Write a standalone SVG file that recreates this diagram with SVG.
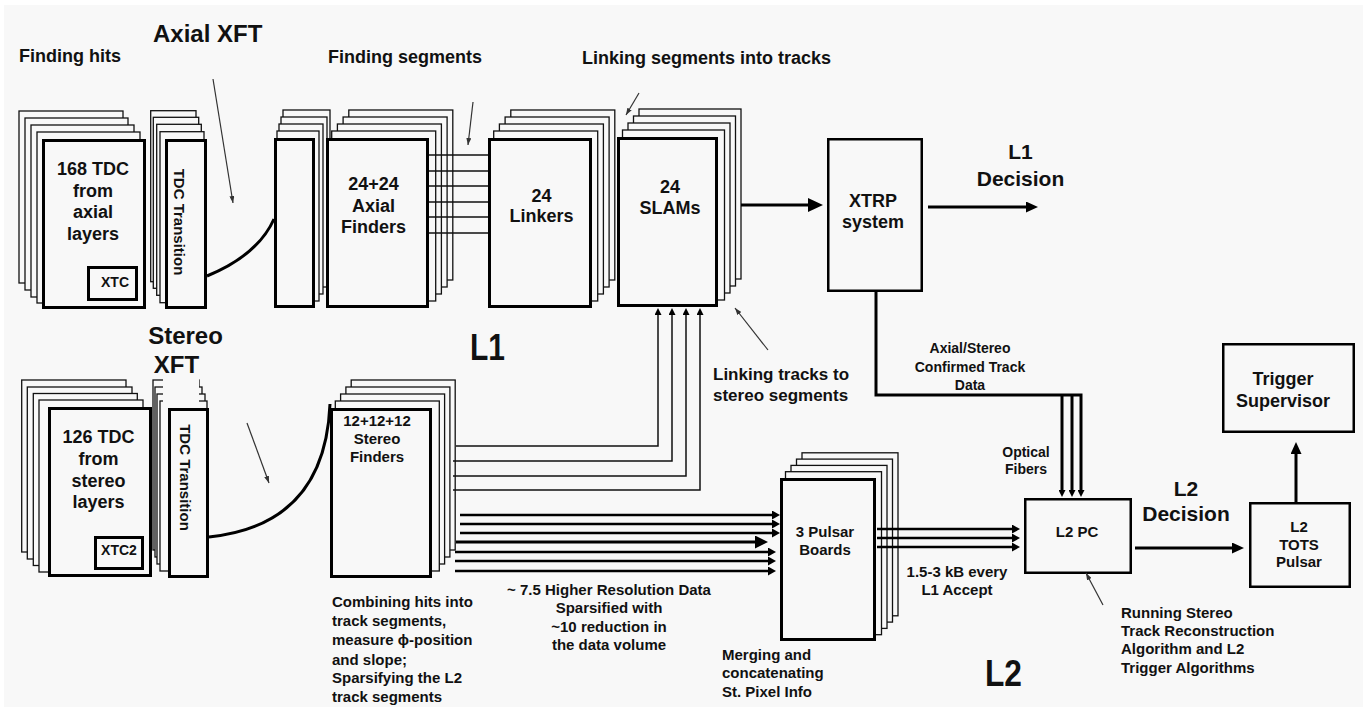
<svg xmlns="http://www.w3.org/2000/svg" width="1369" height="711" viewBox="0 0 1369 711">
  <style>
    text { font-family: "Liberation Sans", Arial, Helvetica, sans-serif; font-weight: bold; fill: #111; }
    .t14 { font-size: 14px; }
    .t15 { font-size: 15px; }
    .t17 { font-size: 17px; }
    .t18 { font-size: 18px; }
    .t21 { font-size: 21px; }
    .t24 { font-size: 24px; }
    .big { font-size: 37px; }
    .mid { text-anchor: middle; }
    .back { fill: #f8f8f8; stroke: #111; stroke-width: 1.3; }
    .front { fill: #f8f8f8; stroke: #000; stroke-width: 3; }
    .box { fill: #f8f8f8; stroke: #000; stroke-width: 2.5; }
    .wire { fill: none; stroke: #111; stroke-width: 1.3; }
    .wire2 { fill: none; stroke: #111; stroke-width: 1.5; }
    .bus { fill: none; stroke: #000; stroke-width: 2.5; }
    .fat { fill: none; stroke: #000; stroke-width: 3; }
    .cable { fill: none; stroke: #000; stroke-width: 3; }
    .pointer { fill: none; stroke: #333; stroke-width: 1.2; }
  </style>
  <defs>
    <marker id="tip-pointer" markerUnits="userSpaceOnUse" markerWidth="7" markerHeight="5" refX="7" refY="2.5" orient="auto">
      <path d="M0,0 L7,2.5 L0,5 z" fill="#333"/>
    </marker>
    <marker id="head-s" markerUnits="userSpaceOnUse" markerWidth="7" markerHeight="7" refX="0" refY="3.5" orient="auto">
      <path d="M0,0 L7,3.5 L0,7 z" fill="#000"/>
    </marker>
    <marker id="head-m" markerUnits="userSpaceOnUse" markerWidth="8" markerHeight="9" refX="0" refY="4.5" orient="auto">
      <path d="M0,0 L8,4.5 L0,9 z" fill="#000"/>
    </marker>
    <marker id="head-l" markerUnits="userSpaceOnUse" markerWidth="12" markerHeight="11" refX="0" refY="5.5" orient="auto">
      <path d="M0,0 L12,5.5 L0,11 z" fill="#000"/>
    </marker>
    <marker id="head-w" markerUnits="userSpaceOnUse" markerWidth="13" markerHeight="13" refX="0" refY="6.5" orient="auto">
      <path d="M0,0 L13,6.5 L0,13 z" fill="#000"/>
    </marker>
    <marker id="head-xl" markerUnits="userSpaceOnUse" markerWidth="15" markerHeight="14" refX="0" refY="7" orient="auto">
      <path d="M0,0 L15,7 L0,14 z" fill="#000"/>
    </marker>
  </defs>

  <!-- page -->
  <rect x="0" y="0" width="1369" height="711" fill="#ffffff"/>
  <rect x="4" y="5" width="1359" height="702" fill="#f8f8f8"/>

  <!-- ===== Axial XFT ===== -->
  <g id="axial-tdc">
    <rect class="back" x="19" y="111" width="104" height="172"/>
    <rect class="back" x="25" y="118" width="103" height="172"/>
    <rect class="back" x="31" y="125" width="103" height="172"/>
    <rect class="back" x="37" y="132" width="103" height="171"/>
    <rect class="front" x="43.5" y="140.5" width="101" height="167"/>
    <text class="t18 mid" x="93"><tspan x="93" y="175">168 TDC</tspan><tspan x="93" y="197">from</tspan><tspan x="93" y="218">axial</tspan><tspan x="93" y="240">layers</tspan></text>
    <rect class="front" x="88.5" y="267.5" width="48" height="32"/>
    <text class="t14 mid" x="115" y="287">XTC</text>
  </g>

  <g id="axial-transition">
    <rect class="back" x="150.7" y="110.7" width="45.3" height="171"/>
    <rect class="back" x="153.3" y="117.3" width="45.4" height="171"/>
    <rect class="back" x="156.7" y="124.3" width="44.6" height="171"/>
    <rect class="back" x="160" y="131.7" width="44" height="171"/>
    <rect class="front" x="166.5" y="140.5" width="39" height="167"/>
    <text class="t15 mid" x="173.5" y="222" transform="rotate(90 173.5 222)">TDC Transition</text>
  </g>

  <g id="axial-input-board">
    <rect class="back" x="283" y="110" width="47" height="170"/>
    <rect class="back" x="281" y="117" width="46" height="170"/>
    <rect class="back" x="279" y="124" width="44" height="170"/>
    <rect class="back" x="277" y="131" width="42" height="170"/>
    <rect class="front" x="275.5" y="139.5" width="38" height="167"/>
  </g>

  <g id="axial-finders">
    <rect class="back" x="348.8" y="110" width="104" height="170"/>
    <rect class="back" x="343.1" y="117" width="104" height="170"/>
    <rect class="back" x="337.4" y="124" width="104" height="170"/>
    <rect class="back" x="331.7" y="131" width="104" height="170"/>
    <rect class="front" x="327.5" y="139.5" width="100" height="167"/>
    <text class="t18 mid" x="373.5"><tspan x="373.5" y="190">24+24</tspan><tspan x="373.5" y="212">Axial</tspan><tspan x="373.5" y="233">Finders</tspan></text>
  </g>

  <g id="linkers">
    <rect class="back" x="510.8" y="110" width="104" height="170"/>
    <rect class="back" x="505.1" y="117" width="104" height="170"/>
    <rect class="back" x="499.4" y="124" width="104" height="170"/>
    <rect class="back" x="493.7" y="131" width="104" height="170"/>
    <rect class="front" x="489.5" y="139.5" width="101" height="167"/>
    <text class="t18 mid" x="541.5"><tspan x="541.5" y="202">24</tspan><tspan x="541.5" y="222">Linkers</tspan></text>
  </g>

  <g id="slams">
    <rect class="back" x="639" y="109" width="102" height="170"/>
    <rect class="back" x="633.5" y="116" width="102" height="170"/>
    <rect class="back" x="628" y="123" width="102" height="170"/>
    <rect class="back" x="622.5" y="130" width="102" height="170"/>
    <rect class="front" x="618.5" y="138.5" width="98" height="167"/>
    <text class="t18 mid" x="670"><tspan x="670" y="193">24</tspan><tspan x="670" y="214">SLAMs</tspan></text>
  </g>

  <g id="xtrp">
    <rect class="box" x="828.25" y="139.25" width="93.5" height="151.5"/>
    <text class="t18 mid" x="873"><tspan x="873" y="207">XTRP</tspan><tspan x="873" y="228">system</tspan></text>
  </g>

  <!-- ===== Stereo XFT ===== -->
  <g id="stereo-tdc">
    <rect class="back" x="21.7" y="380" width="104.3" height="172"/>
    <rect class="back" x="27.3" y="387" width="104.7" height="172"/>
    <rect class="back" x="33.3" y="393.5" width="104" height="172"/>
    <rect class="back" x="39" y="400" width="104" height="172"/>
    <rect class="front" x="49.5" y="408.5" width="101" height="167"/>
    <text class="t18 mid" x="98.5"><tspan x="98.5" y="443">126 TDC</tspan><tspan x="98.5" y="465">from</tspan><tspan x="98.5" y="487">stereo</tspan><tspan x="98.5" y="508">layers</tspan></text>
    <rect class="front" x="95.5" y="537.5" width="47" height="31"/>
    <text class="t14 mid" x="119" y="555">XTC2</text>
  </g>

  <g id="stereo-transition">
    <rect class="back" x="153" y="380" width="46" height="170"/>
    <rect class="back" x="155" y="387" width="47" height="170"/>
    <rect class="back" x="157" y="394" width="48" height="170"/>
    <rect class="back" x="160" y="401" width="47" height="170"/>
    <rect class="front" x="169.5" y="409.5" width="38" height="167"/>
    <text class="t15 mid" x="180" y="477.5" transform="rotate(90 180 477.5)">TDC Transition</text>
  </g>

  <g id="stereo-xft-label">
    <rect x="163" y="318" width="36" height="86" fill="#f8f8f8"/>
    <text class="t24 mid" x="185.5" y="344">Stereo</text>
    <text class="t24 mid" x="176.5" y="373">XFT</text>
  </g>

  <g id="stereo-finders">
    <rect class="back" x="351.2" y="380" width="104" height="170"/>
    <rect class="back" x="345.9" y="387" width="104" height="170"/>
    <rect class="back" x="340.6" y="394" width="104" height="170"/>
    <rect class="back" x="335.3" y="401" width="104" height="170"/>
    <rect class="front" x="331.5" y="409.5" width="99" height="167"/>
    <text class="t15 mid" x="377"><tspan x="377" y="426">12+12+12</tspan><tspan x="377" y="444">Stereo</tspan><tspan x="377" y="462">Finders</tspan></text>
  </g>

  <!-- ===== L2 ===== -->
  <g id="pulsar-boards">
    <rect class="back" x="802" y="452.8" width="96" height="163"/>
    <rect class="back" x="796.5" y="459.1" width="96" height="163"/>
    <rect class="back" x="791" y="465.4" width="96" height="163"/>
    <rect class="back" x="785.5" y="471.7" width="96" height="163"/>
    <rect class="front" x="781.5" y="479.5" width="93" height="160"/>
    <text class="t15 mid" x="825"><tspan x="825" y="537">3 Pulsar</tspan><tspan x="825" y="555">Boards</tspan></text>
  </g>

  <g id="l2-pc">
    <rect class="box" x="1025.25" y="499.25" width="105.5" height="73.5"/>
    <text class="t15 mid" x="1077" y="537">L2 PC</text>
  </g>

  <g id="l2-tots-pulsar">
    <rect class="box" x="1250.25" y="503.25" width="99.5" height="83.5"/>
    <text class="t15 mid" x="1299"><tspan x="1299" y="532">L2</tspan><tspan x="1299" y="550">TOTS</tspan><tspan x="1299" y="567">Pulsar</tspan></text>
  </g>

  <g id="trigger-supervisor">
    <rect class="box" x="1223.25" y="344.25" width="130.5" height="87.5"/>
    <text class="t18 mid" x="1283"><tspan x="1283" y="385">Trigger</tspan><tspan x="1283" y="407">Supervisor</tspan></text>
  </g>

  <!-- ===== connectors ===== -->
  <g id="connectors">
    <!-- TDC transition cables -->
    <path class="cable" d="M207,276 Q258,255 274,219"/>
    <path class="cable" d="M209,537 Q325,525 330,404"/>

    <!-- axial finders to linkers -->
    <path class="wire" d="M429,155 H488 M429,171 H488 M429,186 H488 M429,202 H488 M429,217 H488 M429,233 H488"/>

    <!-- stereo finders to SLAMs -->
    <path class="wire2" d="M456,446 H658 V315" marker-end="url(#head-s)"/>
    <path class="wire2" d="M453,461 H672 V315" marker-end="url(#head-s)"/>
    <path class="wire2" d="M453,476 H686 V315" marker-end="url(#head-s)"/>
    <path class="wire2" d="M453,490 H700 V315" marker-end="url(#head-s)"/>

    <!-- stereo finders to pulsar boards -->
    <path class="bus" d="M460,515 H772" marker-end="url(#head-m)"/>
    <path class="bus" d="M460,524 H772" marker-end="url(#head-m)"/>
    <path class="bus" d="M460,533 H772" marker-end="url(#head-m)"/>
    <path class="fat" d="M456,542 H755" stroke-width="3.5" marker-end="url(#head-w)"/>
    <path class="bus" d="M455,552 H768" marker-end="url(#head-m)"/>
    <path class="bus" d="M455,561 H768" marker-end="url(#head-m)"/>
    <path class="bus" d="M455,571 H768" marker-end="url(#head-m)"/>

    <!-- SLAMs to XTRP, XTRP to L1 decision -->
    <path class="fat" d="M741,205 H808" stroke-width="3.5" marker-end="url(#head-xl)"/>
    <path class="fat" d="M928,207 H1026" marker-end="url(#head-l)"/>

    <!-- XTRP confirmed tracks to L2 PC -->
    <path class="fat" d="M876,292 V395 H1081 V490" stroke-width="2.2" marker-end="url(#head-s)"/>
    <path class="fat" d="M1062,395 V490" stroke-width="2.2" marker-end="url(#head-s)"/>
    <path class="fat" d="M1072,395 V490" stroke-width="2.2" marker-end="url(#head-s)"/>

    <!-- pulsar boards to L2 PC -->
    <path class="bus" d="M877,529 H1012" stroke-width="2.2" marker-end="url(#head-m)"/>
    <path class="bus" d="M877,538 H1012" stroke-width="2.2" marker-end="url(#head-m)"/>
    <path class="bus" d="M877,547 H1012" stroke-width="2.2" marker-end="url(#head-m)"/>

    <!-- L2 decision and trigger supervisor -->
    <path class="fat" d="M1135,548 H1232" marker-end="url(#head-l)"/>
    <path class="fat" d="M1296,502 V454" marker-end="url(#head-l)"/>
  </g>

  <!-- annotation pointers -->
  <g id="pointers">
    <path class="pointer" d="M213,79 L233,203" marker-end="url(#tip-pointer)"/>
    <path class="pointer" d="M473,102 L468,145" marker-end="url(#tip-pointer)"/>
    <path class="pointer" d="M639,93 L626,115" marker-end="url(#tip-pointer)"/>
    <path class="pointer" d="M768,350 L735,308" marker-end="url(#tip-pointer)"/>
    <path class="pointer" d="M247,423 L269,483" marker-end="url(#tip-pointer)"/>
    <path class="pointer" d="M1103,605 L1086,573" marker-end="url(#tip-pointer)"/>
  </g>

  <!-- labels -->
  <g id="labels">
    <text class="t24" x="153" y="41.5">Axial XFT</text>
    <text class="t18" x="19" y="61.5">Finding hits</text>
    <text class="t18" x="328" y="63">Finding segments</text>
    <text class="t18" x="582" y="64">Linking segments into tracks</text>
    <text class="t21 mid" x="1020.5"><tspan x="1020.5" y="159">L1</tspan><tspan x="1020.5" y="186">Decision</tspan></text>
    <text class="big" x="470" y="360" textLength="35" lengthAdjust="spacingAndGlyphs">L1</text>
    <text class="t17" x="713"><tspan x="713" y="380">Linking tracks to</tspan><tspan x="713" y="401">stereo segments</tspan></text>
    <text class="t14 mid" x="970"><tspan x="970" y="353">Axial/Stereo</tspan><tspan x="970" y="372">Confirmed Track</tspan><tspan x="970" y="390">Data</tspan></text>
    <text class="t14 mid" x="1026"><tspan x="1026" y="457">Optical</tspan><tspan x="1026" y="474">Fibers</tspan></text>
    <text class="t21 mid" x="1186"><tspan x="1186" y="496">L2</tspan><tspan x="1186" y="521">Decision</tspan></text>
    <text class="t15 mid" x="957"><tspan x="957" y="577">1.5-3 kB every</tspan><tspan x="957" y="595">L1 Accept</tspan></text>
    <text class="t15" x="332"><tspan x="332" y="607">Combining hits into</tspan><tspan x="332" y="626">track segments,</tspan><tspan x="332" y="645">measure ϕ-position</tspan><tspan x="332" y="665">and slope;</tspan><tspan x="332" y="683">Sparsifying the L2</tspan><tspan x="332" y="702">track segments</tspan></text>
    <text class="t15 mid" x="609"><tspan x="609" y="595">~ 7.5 Higher Resolution Data</tspan><tspan x="609" y="613">Sparsified with</tspan><tspan x="609" y="632">~10 reduction in</tspan><tspan x="609" y="650">the data volume</tspan></text>
    <text class="t15" x="722"><tspan x="722" y="660">Merging and</tspan><tspan x="722" y="678">concatenating</tspan><tspan x="722" y="697">St. Pixel Info</tspan></text>
    <text class="t15" x="1121"><tspan x="1121" y="618">Running Stereo</tspan><tspan x="1121" y="636">Track Reconstruction</tspan><tspan x="1121" y="654">Algorithm and L2</tspan><tspan x="1121" y="673">Trigger Algorithms</tspan></text>
    <text class="big" x="985" y="686" textLength="37" lengthAdjust="spacingAndGlyphs">L2</text>
  </g>
</svg>
